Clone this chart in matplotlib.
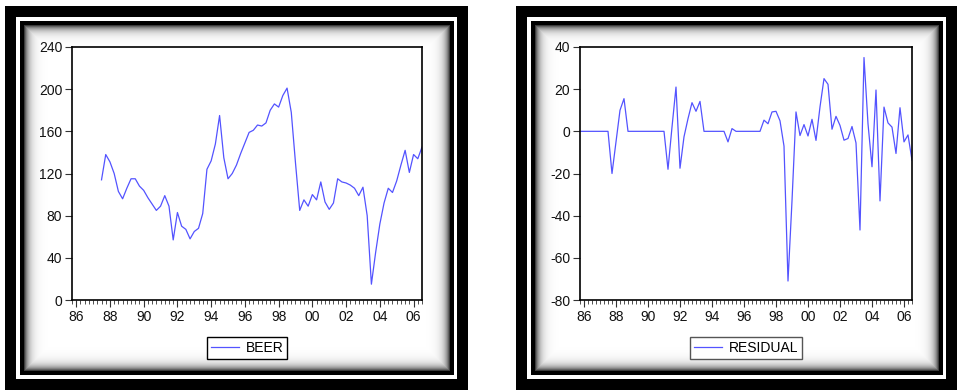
import numpy as np
import pandas as pd
import matplotlib
matplotlib.use("Agg")
import matplotlib.pyplot as plt
from matplotlib.patches import Rectangle

plt.rcParams['font.family'] = ['Liberation Sans', 'DejaVu Sans']
plt.rcParams['axes.unicode_minus'] = False

# ---------------- data ----------------
beer_start = '1987Q3'
beer = [114, 138,
        131, 120, 103, 96,
        106, 115, 115, 108,
        104, 97, 91, 85,
        89, 99, 89, 57,
        83, 70, 67, 58,
        65, 68, 82, 124,
        132, 148, 175, 135,
        115, 120, 128, 139,
        149, 159, 161, 166,
        165, 168, 180, 186,
        183, 194, 201, 178,
        130, 85, 95, 89,
        100, 95, 112, 93,
        86, 92, 115, 112,
        111, 109, 106, 99,
        107, 80, 15, 45,
        72, 92, 106, 102,
        113, 128, 142, 121,
        138, 134, 145]

resid_start = '1985Q4'
residual = [0, 0, 0, 0, 0, 0, 0, 0,
            -20, -5, 10, 15.5,
            0, 0, 0, 0, 0, 0, 0, 0, 0, 0,
            -18, 2, 21, -17.5, -2.6, 6, 13.6, 9.5, 14.2,
            0, 0, 0, 0, 0, 0,
            -5, 1.3,
            0, 0, 0, 0, 0, 0, 0,
            5.3, 3.6, 9.2, 9.5, 5, -7, -71, -33, 9.2, -2,
            3.2, -2.2, 5.7, -4.3, 11.6, 25, 22.3, 1, 7.1, 2.8,
            -4.2, -3.4, 2.3, -5.5, -46.8, 35, 3.6, -16.8, 19.6, -33,
            11.5, 4, 2, -10.5, 11.2, -5, -1.7, -13.7]

label_years = [1986, 1988, 1990, 1992, 1994, 1996, 1998, 2000, 2002, 2004, 2006]
year_labels = ['86', '88', '90', '92', '94', '96', '98', '00', '02', '04', '06']
beer_yticks = [0, 40, 80, 120, 160, 200, 240]
resid_yticks = [-80, -60, -40, -20, 0, 20, 40]


def frac_years(start, n):
    p = pd.period_range(start, periods=n, freq='Q')
    return np.asarray(p.year + (p.quarter - 1) / 4.0, dtype=float)


beer_t = frac_years(beer_start, len(beer))
resid_t = frac_years(resid_start, len(residual))

LINE = '#5353ff'
W, H = 957, 390

fig = plt.figure(figsize=(W / 100, H / 100), dpi=100)
fig.patch.set_facecolor('white')

# ---------------- decorative frames ----------------
bg = fig.add_axes([0, 0, 1, 1], zorder=-10)
bg.axis('off')


def frame(x0, x1, y0, y1):
    bg.add_patch(Rectangle((x0, y0), x1 - x0, y1 - y0, color='black', lw=0, zorder=1))
    bg.add_patch(Rectangle((x0 + 11, y0 + 11), x1 - x0 - 22, y1 - y0 - 22, color='white', lw=0, zorder=2))
    bx0, bx1, by0, by1 = x0 + 14.5, x1 - 14.5, y0 + 15, y1 - 15
    bg.add_patch(Rectangle((bx0, by0), bx1 - bx0, by1 - by0, color='black', lw=0, zorder=3))
    cx0, cx1, cy0, cy1 = bx0 + 4, bx1 - 4, by0 + 4, by1 - 4
    w = int(cx1 - cx0)
    h = int(cy1 - cy0)
    xx = np.arange(w)[None, :] + 0.5
    yy = np.arange(h)[:, None] + 0.5
    d = np.minimum(np.minimum(xx, w - xx), np.minimum(yy, h - yy))
    img = 1 - 0.85 * np.exp(-d / 4.5)
    bg.imshow(img, cmap='gray', vmin=0, vmax=1, extent=(cx0, cx1, cy1, cy0),
              interpolation='bilinear', aspect='auto', zorder=4)


frame(5, 468, 6, 390)
frame(516, 957, 6, 390)
bg.set_xlim(0, W)
bg.set_ylim(H, 0)


def style_axes(ax, yticks):
    ax.set_facecolor('white')
    for s in ax.spines.values():
        s.set_color('black')
        s.set_linewidth(1.2)
    ax.set_xlim(1985.75, 2006.5)
    ax.set_xticks(label_years, year_labels)
    ax.set_xticks(frac_years('1985Q4', 84), minor=True)
    ax.set_yticks(yticks)
    ax.set_ylim(yticks[0], yticks[-1])
    ax.tick_params(axis='both', which='major', direction='out', length=5, width=0.8,
                   labelsize=10, colors='#333333', labelcolor='#111111', pad=2)
    ax.tick_params(axis='x', which='minor', direction='out', length=3, width=0.6, colors='#333333')
    ax.tick_params(axis='y', which='minor', left=False)


# ---------------- BEER panel ----------------
ax1 = fig.add_axes([72 / W, (H - 300) / H, 350 / W, 253 / H])
ax1.plot(beer_t, beer, color=LINE, lw=0.9, label='BEER')
style_axes(ax1, beer_yticks)
leg1 = ax1.legend(loc='center', bbox_to_anchor=(0.5, -0.19), frameon=True, fancybox=False,
                  fontsize=10, handlelength=2.0, borderpad=0.3, handletextpad=0.5, framealpha=1)
leg1.get_frame().set_edgecolor('black')
leg1.get_frame().set_linewidth(1.0)

# ---------------- RESIDUAL panel ----------------
ax2 = fig.add_axes([580 / W, (H - 300) / H, 332 / W, 253 / H])
ax2.plot(resid_t, residual, color=LINE, lw=0.9, label='RESIDUAL')
style_axes(ax2, resid_yticks)
leg2 = ax2.legend(loc='center', bbox_to_anchor=(0.5, -0.19), frameon=True, fancybox=False,
                  fontsize=10, handlelength=2.0, borderpad=0.3, handletextpad=0.5, framealpha=1)
leg2.get_frame().set_edgecolor('#555555')
leg2.get_frame().set_linewidth(1.0)

fig.savefig('out.png', dpi=100, facecolor='white')
